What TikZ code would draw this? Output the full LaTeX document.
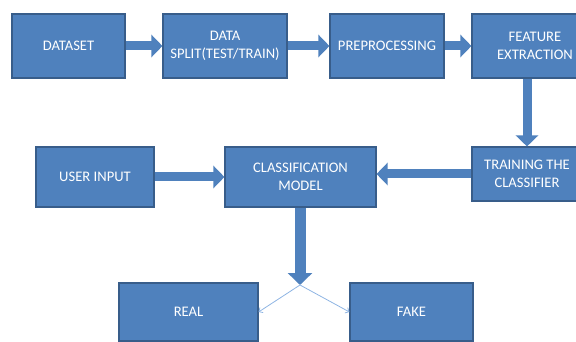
\documentclass[tikz,border=0pt]{standalone}
\usepackage{fontspec}
\setmainfont{Carlito}
\usepackage{tikz}
\usetikzlibrary{arrows.meta, positioning}
\definecolor{boxfill}{HTML}{4F81BD}
\definecolor{boxedge}{HTML}{385D8A}
\definecolor{thinblue}{HTML}{8EB4E3}
\tikzset{
	block/.style={draw=boxedge, fill=boxfill, line width=1.1pt, text=white, align=center,
		font=\fontsize{14.6}{18}\selectfont, inner sep=2pt},
	flow/.style={draw=boxfill, line width=9pt, -{Triangle[length=11pt, width=22pt]}},
	split/.style={draw=thinblue, line width=0.8pt, -{Straight Barb[length=3pt, width=6pt]}}
}

\begin{document}
\begin{tikzpicture}[x=1pt, y=-1pt]
		\useasboundingbox (0,0) rectangle (576,342);
		
		\node[block, minimum width=113pt, minimum height=64pt] (dataset) at (68.5,46) {DATASET};
		\node[block, minimum width=124pt, minimum height=64pt] (datasplit) at (225,46) {DATA\\SPLIT(TEST/TRAIN)};
		\node[block, minimum width=114pt, minimum height=64pt] (preproc) at (387,46) {PREPROCESSING};
		\node[block, minimum width=126pt, minimum height=64pt] (features) at (535,46) {FEATURE\\EXTRACTION};
		
		\node[block, minimum width=118pt, minimum height=60pt] (userinput) at (95,177) {USER INPUT};
		\node[block, minimum width=151pt, minimum height=60pt] (model) at (300.5,177) {CLASSIFICATION\\MODEL};
		\node[block, minimum width=110pt, minimum height=54pt] (training) at (527,174) {TRAINING THE\\CLASSIFIER};
		
		\node[block, minimum width=139pt, minimum height=58pt] (real) at (188.5,312) {REAL};
		\node[block, minimum width=123pt, minimum height=58pt] (fake) at (411.5,312) {FAKE};
		
		\coordinate (fork) at (300,285);
		
		\draw[flow] (dataset.east)  -- (datasplit.west);
		\draw[flow] (datasplit.east) -- (preproc.west);
		\draw[flow] (preproc.east)  -- (features.west);
		
		\draw[flow] (features.south -| training.north) -- (training.north);
		\draw[flow] (training.west) -- (training.west -| model.east);
		\draw[flow] (userinput.east) -- (model.west);
		
		\draw[flow, line width=11pt, -{Triangle[length=12pt, width=24pt]}] (model.south -| fork) -- (fork);
		
		\draw[split] (fork) -- (real.east);
		\draw[split] (fork) -- (fake.west);
	\end{tikzpicture}
\end{document}
